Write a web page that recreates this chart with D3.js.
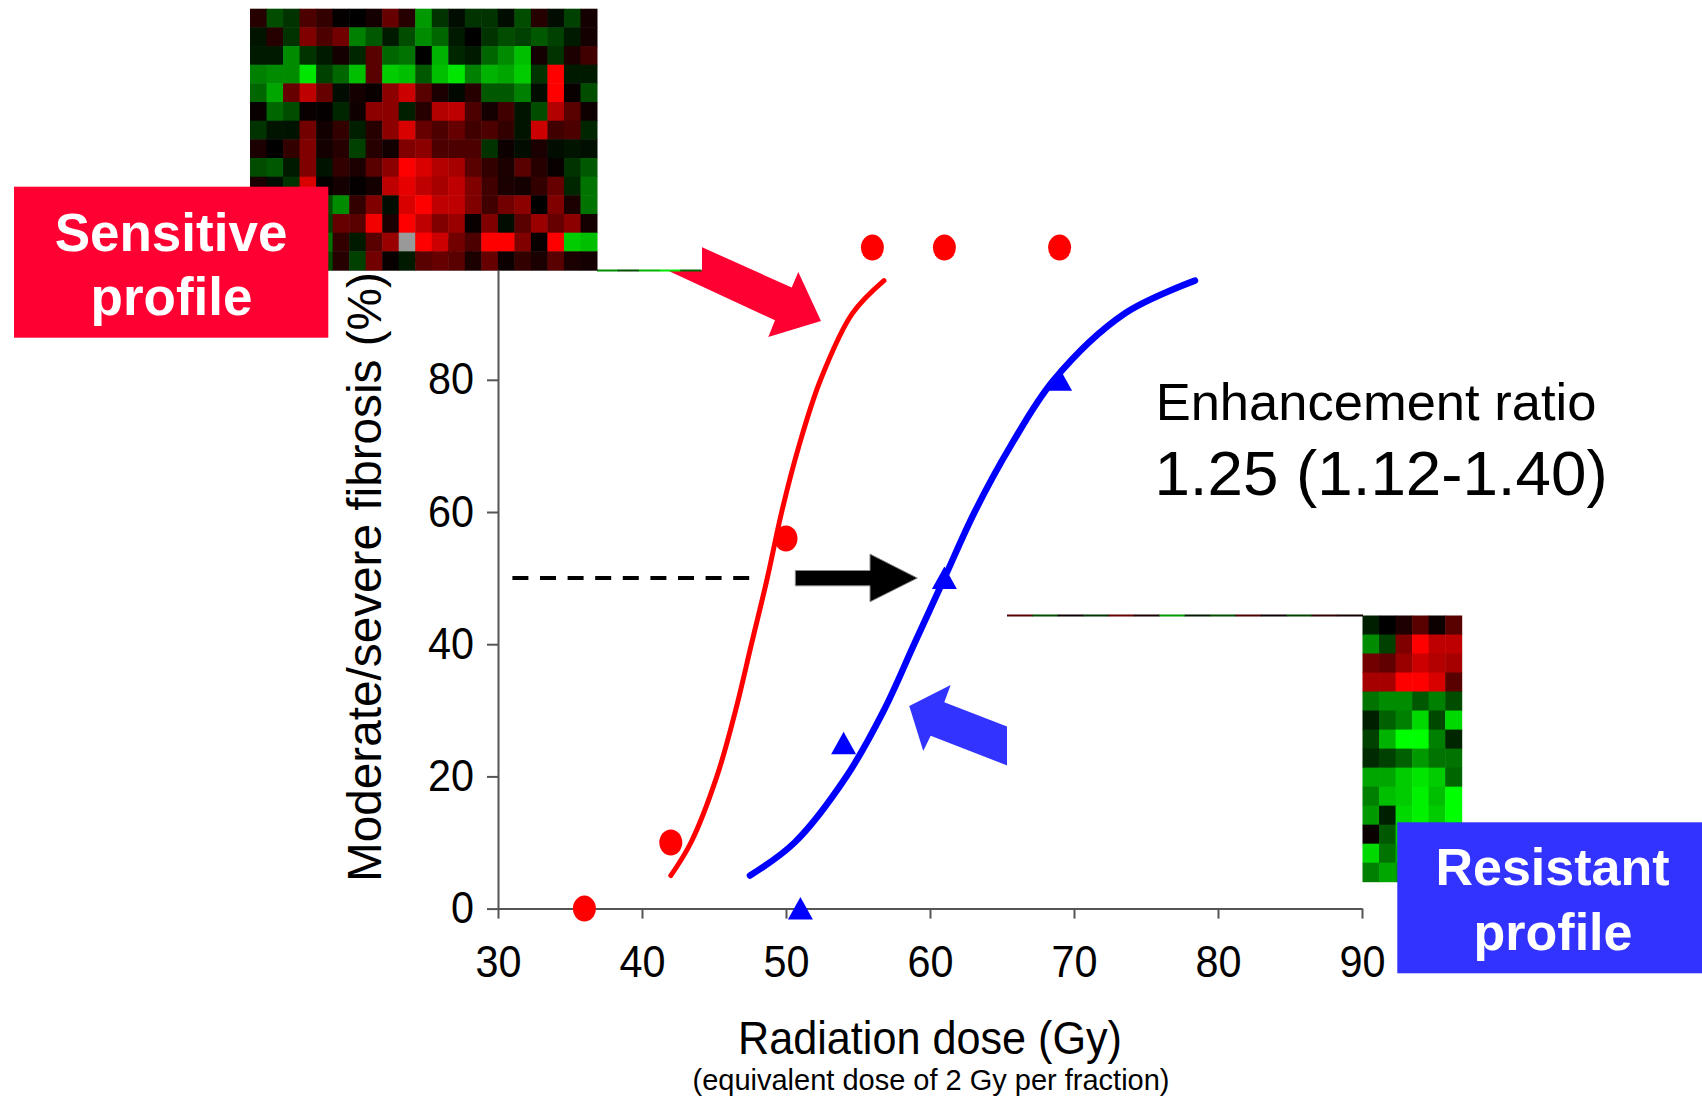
<!DOCTYPE html>
<html>
<head>
<meta charset="utf-8">
<script src="https://cdn.jsdelivr.net/npm/d3@7"></script>
<style>
  body { margin: 0; background: #fff; }
  svg { display: block; }
  text { font-family: "Liberation Sans", Arial, Helvetica, sans-serif; }
</style>
</head>
<body>
<svg id="chart" width="1702" height="1100"></svg>
<script>
// ---- data -------------------------------------------------------------
const xTicks = [30, 40, 50, 60, 70, 80, 90];
const yTicks = [0, 20, 40, 60, 80, 100];

// observed incidence of moderate/severe fibrosis per dose group
const sensitiveDose = [36, 42, 50, 56, 61, 69];
const sensitivePct  = [0, 10, 56, 100, 100, 100];
const resistantDose = [51, 54, 61, 69];
const resistantPct  = [0, 25, 50, 80];

// fitted dose-response curves
const sensitiveFitDose = [42.0, 43.4, 45.2, 46.5, 47.6, 48.7, 49.7, 50.9, 52.4, 54.6, 56.8];
const sensitiveFitPct  = [5, 10, 20, 30, 40, 50, 60, 70, 80, 90, 95];
const resistantFitDose = [47.5, 50.6, 54.2, 56.8, 58.9, 61.0, 63.1, 65.6, 68.6, 73.5, 78.4];
const resistantFitPct  = [5, 10, 20, 30, 40, 50, 60, 70, 80, 90, 95];

// 50% iso-effect reference line (dose range)
const isoEffectPct = 50;
const isoLineDose = [31, 47.8];

const ratioLabel = "Enhancement ratio";
const ratioValue = "1.25 (1.12-1.40)";

// expression heatmaps (log ratio: + red, - green, null = missing)
const sensitiveHeatmap = [
  [0.15,-0.3,-0.2,0.3,0.2,0.02,0,0.08,0.4,0.15,-0.6,-0.2,-0.05,-0.2,-0.2,-0.05,-0.3,0.15,-0.05,-0.25,0.08],
  [-0.08,0.15,-0.2,0.5,0.3,0.45,-0.5,-0.35,-0.1,-0.3,-0.55,-0.4,-0.1,0,-0.2,-0.3,-0.25,-0.35,-0.25,-0.1,0.08],
  [-0.1,-0.1,-0.55,-0.2,-0.1,0.08,-0.15,0.35,-0.4,-0.45,0,-0.7,-0.15,-0.1,-0.4,-0.55,-0.75,0.08,-0.2,0.1,0.25],
  [-0.5,-0.55,-0.55,-0.9,-0.25,-0.4,-0.75,0.35,-0.8,-0.75,-0.35,-0.75,-0.9,-0.5,-0.7,-0.65,-0.8,-0.2,1.0,-0.1,-0.1],
  [-0.4,-0.65,0.4,0.75,0.4,-0.05,0.08,0.03,0.55,0.8,0.35,0.1,-0.03,0.15,-0.35,-0.35,-0.5,-0.05,1.0,0.03,-0.3],
  [0.03,-0.4,-0.3,0.03,0.02,-0.15,0.06,0.55,0.55,-0.12,0.15,0.7,0.75,0.3,0.08,0.25,-0.08,-0.3,0.7,0.35,0.06],
  [-0.2,-0.08,-0.07,0.45,0.07,0.2,-0.12,0.15,0.55,0.85,0.4,0.3,0.4,0.25,0.3,0.2,-0.08,0.8,0.25,0.3,-0.15],
  [0.1,0,0.2,0.5,0.08,0.15,-0.25,0.15,0.07,0.5,0.55,0.3,0.3,0.3,-0.2,0.05,-0.05,0.1,-0.05,-0.08,-0.06],
  [-0.3,-0.35,-0.1,0.5,-0.07,0.2,0.1,0.35,0.55,1.0,0.85,0.7,0.65,0.35,0.2,0.1,0.35,0.15,0.03,-0.2,-0.35],
  [0.1,-0.05,-0.2,0.85,0.02,0.08,0.02,0.08,0.75,0.9,0.75,0.65,0.75,0.5,0.25,0.1,0.08,0.2,0.4,-0.15,-0.45],
  [0.2,-0.1,0.3,-0.2,-0.3,-0.55,0.2,0.5,-0.05,0.85,1.0,0.75,0.75,0.5,0.25,0.45,0.55,0,0.5,0.1,-0.45],
  [-0.15,0.25,0.1,0.4,-0.25,0.4,0.35,0.95,0.1,1.0,0.75,0.5,0.6,0.03,0.5,-0.05,0.35,0.6,0.4,0.55,0.08],
  [0.3,-0.2,0.15,-0.1,-0.45,0.2,-0.1,0.35,0.6,null,1.0,0.8,0.45,0.3,1.0,1.0,0.5,0.03,1.0,-0.8,-0.75],
  [0.1,0.2,-0.3,0.25,-0.3,0.15,-0.25,0.45,0.03,-0.1,0.35,0.4,0.35,0.1,0.4,0.05,0.2,0.1,0.35,0.1,0.08]
];
const resistantHeatmap = [
  [-0.12,0,0.12,0.35,0.05,0.35],
  [-0.55,-0.25,0.5,1.0,0.75,0.75],
  [0.45,0.38,0.6,0.8,0.7,0.65],
  [0.65,0.65,1.0,1.0,0.85,0.35],
  [-0.45,-0.55,-0.55,-0.35,-0.5,-0.3],
  [-0.12,-0.38,-0.5,-0.85,-0.28,-0.85],
  [-0.25,-0.7,-1.0,-1.0,-0.5,-0.15],
  [-0.17,-0.25,-0.38,-0.6,-0.45,-0.45],
  [-0.65,-0.65,-0.8,-0.9,-0.8,-0.4],
  [-0.5,-0.75,-0.8,-0.95,-0.75,-1.0],
  [-0.6,-0.12,-0.85,-0.95,-0.8,-1.0],
  [0.04,-0.35,-0.8,-0.9,-0.7,-0.85],
  [-0.85,-0.45,-0.7,-0.8,-0.6,-0.75],
  [-0.5,-0.65,-0.6,-0.7,-0.55,-0.6]
];
// thin edge strips trailing off the heatmap images
const sensitiveStrip = [-0.55, -0.3, -0.7, -0.9, -0.4];
const resistantStrip = [0.35, -0.3, 0.05, -0.2, 0.4, 0.1, -0.6, -0.1, -0.3, 0.3, 0.05, -0.25, 0.2, 0.08];

// ---- layout ----------------------------------------------------------
const RED = "#ff0000", BLUE = "#0000ff";
const BOX_RED = "#ff0033", BOX_BLUE = "#3333ff";

const svg = d3.select("#chart");
const x = d3.scaleLinear().domain([30, 90]).range([498, 1362]);
const y = d3.scaleLinear().domain([0, 100]).range([908.6, 247.6]);
const heatColor = d3.scaleLinear().domain([-1, 0, 1])
  .range(["#00ff00", "#000000", "#ff0000"]).clamp(true);

// ---- axes ------------------------------------------------------------
const yAxis = svg.append("g").attr("transform", `translate(${x(30)},0)`)
  .call(d3.axisLeft(y).tickValues(yTicks).tickSize(11).tickSizeOuter(0).tickPadding(13));
const xAxis = svg.append("g").attr("transform", `translate(0,${y(0)})`)
  .call(d3.axisBottom(x).tickValues(xTicks).tickSize(10).tickSizeOuter(0).tickPadding(27));
[yAxis, xAxis].forEach(g => {
  g.selectAll("path, line").attr("stroke", "#555").attr("stroke-width", 2);
  g.selectAll("text").attr("font-size", 44).attr("fill", "#000")
    .attr("font-family", '"Liberation Sans", Arial, sans-serif')
    .attr("textLength", d => String(d).length * 23)
    .attr("lengthAdjust", "spacingAndGlyphs");
});

svg.append("text")
  .attr("transform", `translate(381,${(y(0) + y(100)) / 2 - 1}) rotate(-90)`)
  .attr("text-anchor", "middle").attr("font-size", 48)
  .attr("textLength", 610).attr("lengthAdjust", "spacingAndGlyphs")
  .text("Moderate/severe fibrosis (%)");
svg.append("text").attr("x", 930).attr("y", 1054)
  .attr("text-anchor", "middle").attr("font-size", 47)
  .attr("textLength", 384).attr("lengthAdjust", "spacingAndGlyphs")
  .text("Radiation dose (Gy)");
svg.append("text").attr("x", 931).attr("y", 1090)
  .attr("text-anchor", "middle").attr("font-size", 30)
  .attr("textLength", 477).attr("lengthAdjust", "spacingAndGlyphs")
  .text("(equivalent dose of 2 Gy per fraction)");

// ---- 50% reference line ---------------------------------------------
svg.append("line")
  .attr("x1", x(isoLineDose[0])).attr("x2", x(isoLineDose[1]))
  .attr("y1", y(isoEffectPct)).attr("y2", y(isoEffectPct))
  .attr("stroke", "#000").attr("stroke-width", 4).attr("stroke-dasharray", "16 11.6");

// ---- fitted curves ---------------------------------------------------
const line = d3.line().x(d => x(d[0])).y(d => y(d[1])).curve(d3.curveCatmullRom.alpha(0.5));
svg.append("path").datum(d3.zip(sensitiveFitDose, sensitiveFitPct))
  .attr("d", line).attr("fill", "none").attr("stroke", RED)
  .attr("stroke-width", 5).attr("stroke-linecap", "round");
svg.append("path").datum(d3.zip(resistantFitDose, resistantFitPct))
  .attr("d", line).attr("fill", "none").attr("stroke", BLUE)
  .attr("stroke-width", 6.5).attr("stroke-linecap", "round");

// ---- observed points -------------------------------------------------
svg.append("g").selectAll("ellipse").data(d3.zip(sensitiveDose, sensitivePct)).join("ellipse")
  .attr("cx", d => x(d[0])).attr("cy", d => y(d[1]))
  .attr("rx", 11.5).attr("ry", 13).attr("fill", RED);
svg.append("g").selectAll("path").data(d3.zip(resistantDose, resistantPct)).join("path")
  .attr("transform", d => `translate(${x(d[0])},${y(d[1])})`)
  .attr("d", "M0,-11.5L12.5,11L-12.5,11Z").attr("fill", BLUE);

// ---- annotation arrows -----------------------------------------------
function arrow(tipDose, tipPct, pts, fill, stroke) {
  const tx = x(tipDose), ty = y(tipPct);
  return svg.append("polygon")
    .attr("points", pts.map(p => [tx + p[0], ty + p[1]].join(",")).join(" "))
    .attr("fill", fill).attr("stroke", stroke || "none").attr("stroke-width", 1);
}
// red arrow into the sensitive curve
arrow(52.43, 88.9, [[-181, -101.7], [-29.3, -33.4], [-22.7, -49], [0, 0],
  [-52.7, 16], [-46, -0.7], [-195.6, -70.1]], BOX_RED);
// blue arrow into the resistant curve
arrow(58.56, 30.65, [[0, 0], [41.4, -21], [35, -3.7], [130.7, 33.2],
  [130.7, 72.2], [21.4, 29.7], [14, 45]], BOX_BLUE);
// black shift arrow at the 50% level
arrow(59.12, isoEffectPct, [[-122, -7.6], [-47.3, -7.6], [-47.3, -24], [0, 0],
  [-47.3, 23.7], [-47.3, 7.7], [-122, 7.7]], "#000", "#888");

// ---- heatmap images --------------------------------------------------
function heatmap(matrix, x0, x1, y0, y1) {
  const cols = d3.scaleBand().domain(d3.range(matrix[0].length)).range([x0, x1]);
  const rows = d3.scaleBand().domain(d3.range(matrix.length)).range([y0, y1]);
  const cells = matrix.flatMap((r, i) => r.map((v, j) => ({ i, j, v })));
  svg.append("g").selectAll("rect").data(cells).join("rect")
    .attr("x", d => cols(d.j)).attr("y", d => rows(d.i))
    .attr("width", cols.bandwidth() + 0.5).attr("height", rows.bandwidth() + 0.5)
    .attr("fill", d => d.v === null ? "#999" : heatColor(d.v));
}
function strip(values, x0, x1, yy, h) {
  const s = d3.scaleBand().domain(d3.range(values.length)).range([x0, x1]);
  svg.append("g").selectAll("rect").data(values).join("rect")
    .attr("x", (d, i) => s(i)).attr("y", yy).attr("width", s.bandwidth() + 0.5)
    .attr("height", h).attr("fill", d => heatColor(d));
}

// white margin of the upper image, then its edge strip and cells
svg.append("rect").attr("x", 597).attr("y", 190).attr("width", 105).attr("height", 80).attr("fill", "#fff");
strip(sensitiveStrip, 597, 701, 269.5, 2);
svg.append("line").attr("x1", 250).attr("x2", 597).attr("y1", 270.5).attr("y2", 270.5)
  .attr("stroke", "#999").attr("stroke-width", 1);
heatmap(sensitiveHeatmap, 250, 597, 8.7, 270);

// white margin of the lower image, then its edge strip and cells
svg.append("rect").attr("x", 1007).attr("y", 616.5).attr("width", 356).attr("height", 265).attr("fill", "#fff");
strip(resistantStrip, 1007, 1362.5, 614.5, 2);
heatmap(resistantHeatmap, 1362.5, 1461.7, 615.5, 881.7);

// ---- profile labels --------------------------------------------------
svg.append("rect").attr("x", 14).attr("y", 186.7).attr("width", 314.3).attr("height", 151).attr("fill", BOX_RED);
svg.append("text").attr("x", 171).attr("y", 251).attr("text-anchor", "middle")
  .attr("font-size", 53).attr("font-weight", "bold").attr("fill", "#fff").text("Sensitive");
svg.append("text").attr("x", 171.5).attr("y", 315).attr("text-anchor", "middle")
  .attr("font-size", 53).attr("font-weight", "bold").attr("fill", "#fff").text("profile");

svg.append("rect").attr("x", 1397.3).attr("y", 822.3).attr("width", 304.7).attr("height", 151).attr("fill", BOX_BLUE);
svg.append("text").attr("x", 1552.5).attr("y", 885).attr("text-anchor", "middle")
  .attr("font-size", 52).attr("font-weight", "bold").attr("fill", "#fff").text("Resistant");
svg.append("text").attr("x", 1553).attr("y", 950).attr("text-anchor", "middle")
  .attr("font-size", 52).attr("font-weight", "bold").attr("fill", "#fff").text("profile");

// ---- enhancement ratio ----------------------------------------------
svg.append("text").attr("x", 1376).attr("y", 420).attr("text-anchor", "middle")
  .attr("font-size", 52.5).attr("fill", "#000").text(ratioLabel);
svg.append("text").attr("x", 1381).attr("y", 495).attr("text-anchor", "middle")
  .attr("font-size", 63.7).attr("fill", "#000").text(ratioValue);
</script>
</body>
</html>
